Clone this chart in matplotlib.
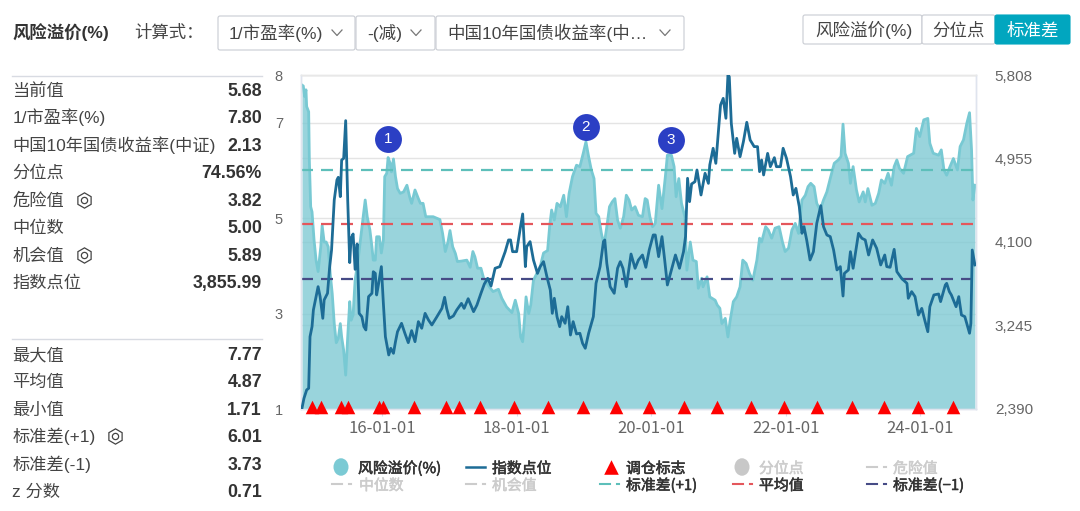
import matplotlib
matplotlib.use("Agg")
import matplotlib.pyplot as plt
import matplotlib.patheffects as pe
from matplotlib.patches import FancyBboxPatch, Ellipse

CN = ['Liberation Sans', 'Noto Sans CJK SC']
LEG = ['Noto Sans CJK SC', 'DejaVu Sans']
plt.rcParams['font.family'] = CN

# risk premium, x in decimal years
premium_t = [2014.81, 2014.83, 2014.85, 2014.87, 2014.88, 2014.91, 2014.92, 2014.94, 2014.96, 2014.99,
    2015.02, 2015.05, 2015.09, 2015.11, 2015.14, 2015.17, 2015.20, 2015.23, 2015.26, 2015.29,
    2015.32, 2015.35, 2015.38, 2015.40, 2015.43, 2015.46, 2015.49, 2015.52, 2015.54, 2015.57,
    2015.60, 2015.65, 2015.69, 2015.72, 2015.75, 2015.78, 2015.82, 2015.85, 2015.87, 2015.90,
    2015.92, 2015.96, 2015.99, 2016.02, 2016.04, 2016.07, 2016.09, 2016.12, 2016.14, 2016.17,
    2016.20, 2016.23, 2016.27, 2016.32, 2016.37, 2016.41, 2016.44, 2016.49, 2016.54, 2016.57,
    2016.61, 2016.65, 2016.71, 2016.76, 2016.86, 2016.90, 2016.94, 2016.98, 2017.01, 2017.05,
    2017.09, 2017.12, 2017.18, 2017.26, 2017.31, 2017.35, 2017.38, 2017.42, 2017.47, 2017.51,
    2017.56, 2017.60, 2017.65, 2017.73, 2017.78, 2017.85, 2017.93, 2017.98, 2018.03, 2018.06,
    2018.09, 2018.12, 2018.14, 2018.18, 2018.21, 2018.25, 2018.30, 2018.35, 2018.40, 2018.46,
    2018.49, 2018.52, 2018.56, 2018.60, 2018.65, 2018.70, 2018.74, 2018.78, 2018.83, 2018.89,
    2018.94, 2018.99, 2019.03, 2019.07, 2019.11, 2019.15, 2019.18, 2019.22, 2019.26, 2019.30,
    2019.34, 2019.38, 2019.42, 2019.46, 2019.50, 2019.54, 2019.59, 2019.63, 2019.67, 2019.71,
    2019.76, 2019.81, 2019.87, 2019.91, 2019.94, 2019.98, 2020.02, 2020.06, 2020.11, 2020.16,
    2020.21, 2020.24, 2020.30, 2020.34, 2020.37, 2020.41, 2020.45, 2020.50, 2020.53, 2020.58,
    2020.62, 2020.67, 2020.70, 2020.75, 2020.77, 2020.83, 2020.87, 2020.95, 2020.98, 2021.02,
    2021.05, 2021.10, 2021.14, 2021.17, 2021.22, 2021.27, 2021.32, 2021.36, 2021.41, 2021.46,
    2021.51, 2021.57, 2021.61, 2021.64, 2021.70, 2021.74, 2021.79, 2021.84, 2021.90, 2021.95,
    2021.99, 2022.04, 2022.09, 2022.14, 2022.19, 2022.24, 2022.29, 2022.33, 2022.37, 2022.42,
    2022.46, 2022.51, 2022.56, 2022.61, 2022.66, 2022.72, 2022.78, 2022.82, 2022.85, 2022.88,
    2022.93, 2022.96, 2023.00, 2023.05, 2023.09, 2023.15, 2023.18, 2023.22, 2023.28, 2023.33,
    2023.38, 2023.42, 2023.47, 2023.52, 2023.57, 2023.61, 2023.65, 2023.69, 2023.75, 2023.81,
    2023.90, 2023.94, 2023.99, 2024.05, 2024.11, 2024.14, 2024.19, 2024.27, 2024.31, 2024.35,
    2024.39, 2024.44, 2024.49, 2024.55, 2024.59, 2024.64, 2024.69, 2024.73, 2024.76, 2024.78, 2024.81]
premium = [7.79, 7.77, 7.55, 7.69, 7.34, 7.23, 6.22, 5.24, 5.13, 4.54,
    4.12, 3.88, 4.40, 4.85, 4.50, 4.50, 4.40, 3.84, 3.42, 2.79,
    2.39, 2.48, 2.79, 2.51, 2.23, 1.71, 2.51, 3.25, 2.86, 2.97,
    3.70, 4.19, 4.68, 5.03, 5.38, 5.03, 4.75, 4.40, 4.12, 4.12,
    4.61, 4.61, 4.27, 4.54, 5.87, 5.94, 6.27, 6.15, 5.97, 6.24,
    5.87, 5.62, 5.52, 5.55, 5.69, 5.45, 5.31, 5.59, 5.41, 5.31,
    5.31, 5.03, 5.03, 5.03, 4.97, 4.68, 4.30, 4.50, 4.74, 4.40,
    4.26, 4.09, 4.10, 4.12, 3.97, 4.30, 4.19, 3.95, 3.95, 3.74,
    3.63, 3.55, 3.46, 3.51, 3.32, 3.14, 3.02, 3.28, 3.00, 2.51,
    2.41, 2.93, 3.35, 3.00, 3.18, 3.70, 3.84, 3.98, 4.27, 4.32,
    4.82, 5.17, 4.96, 5.31, 5.24, 5.48, 5.03, 5.52, 5.87, 6.11,
    6.08, 6.36, 6.60, 6.29, 6.01, 5.83, 5.10, 5.03, 4.68, 4.44,
    4.82, 5.24, 5.34, 5.41, 4.96, 4.79, 5.03, 5.48, 5.38, 5.17,
    5.24, 5.06, 5.03, 5.41, 5.38, 5.03, 4.82, 4.89, 5.69, 5.20,
    5.87, 6.32, 6.32, 6.08, 5.45, 5.83, 5.31, 5.03, 3.91, 4.50,
    4.12, 4.09, 3.53, 3.74, 3.56, 3.77, 3.35, 3.28, 3.18, 3.11,
    2.79, 2.90, 2.51, 2.83, 3.25, 3.35, 3.56, 4.12, 4.05, 3.84,
    3.70, 4.12, 4.58, 4.50, 4.82, 4.75, 4.58, 4.79, 4.82, 4.50,
    4.30, 4.37, 4.75, 4.89, 4.68, 5.38, 5.48, 5.66, 5.73, 5.66,
    5.31, 5.17, 5.38, 5.55, 5.83, 6.15, 6.22, 6.29, 6.97, 6.36,
    6.15, 5.73, 6.08, 5.59, 5.34, 5.55, 5.34, 5.62, 5.27, 5.31,
    5.52, 5.80, 5.73, 5.94, 5.69, 6.08, 6.22, 6.04, 5.94, 6.29,
    6.36, 6.88, 6.71, 7.06, 7.09, 6.57, 6.36, 6.32, 6.43, 6.01,
    5.90, 6.08, 6.25, 6.01, 6.50, 6.64, 6.99, 7.21, 6.43, 5.38, 5.69]

# index level, right axis
index_t = [2014.81, 2014.84, 2014.88, 2014.91, 2014.93, 2014.96, 2014.98, 2015.02, 2015.05, 2015.08,
    2015.12, 2015.14, 2015.19, 2015.22, 2015.25, 2015.29, 2015.33, 2015.35, 2015.38, 2015.40,
    2015.43, 2015.46, 2015.49, 2015.52, 2015.54, 2015.57, 2015.60, 2015.63, 2015.66, 2015.70,
    2015.73, 2015.76, 2015.80, 2015.85, 2015.87, 2015.90, 2015.92, 2015.95, 2015.99, 2016.02,
    2016.05, 2016.10, 2016.13, 2016.17, 2016.20, 2016.23, 2016.29, 2016.34, 2016.39, 2016.44,
    2016.49, 2016.54, 2016.59, 2016.64, 2016.69, 2016.74, 2016.81, 2016.89, 2016.93, 2016.96,
    2017.00, 2017.06, 2017.11, 2017.18, 2017.22, 2017.28, 2017.36, 2017.41, 2017.47, 2017.52,
    2017.57, 2017.62, 2017.68, 2017.75, 2017.83, 2017.88, 2017.91, 2017.94, 2018.00, 2018.05,
    2018.09, 2018.13, 2018.15, 2018.20, 2018.25, 2018.31, 2018.35, 2018.40, 2018.45, 2018.50,
    2018.53, 2018.56, 2018.60, 2018.64, 2018.67, 2018.72, 2018.76, 2018.80, 2018.84, 2018.89,
    2018.94, 2018.98, 2019.02, 2019.07, 2019.14, 2019.18, 2019.24, 2019.29, 2019.31, 2019.34,
    2019.39, 2019.45, 2019.50, 2019.54, 2019.58, 2019.63, 2019.70, 2019.76, 2019.81, 2019.87,
    2019.92, 2019.97, 2020.03, 2020.06, 2020.11, 2020.16, 2020.20, 2020.24, 2020.30, 2020.36,
    2020.42, 2020.48, 2020.51, 2020.54, 2020.57, 2020.60, 2020.65, 2020.68, 2020.74, 2020.80,
    2020.85, 2020.87, 2020.92, 2020.96, 2021.03, 2021.07, 2021.11, 2021.14, 2021.16, 2021.19,
    2021.24, 2021.27, 2021.32, 2021.37, 2021.42, 2021.47, 2021.53, 2021.58, 2021.61, 2021.64,
    2021.67, 2021.73, 2021.77, 2021.83, 2021.86, 2021.92, 2021.96, 2022.01, 2022.07, 2022.11,
    2022.15, 2022.20, 2022.24, 2022.27, 2022.31, 2022.36, 2022.41, 2022.46, 2022.52, 2022.56,
    2022.61, 2022.66, 2022.71, 2022.76, 2022.81, 2022.85, 2022.87, 2022.93, 2022.96, 2023.00,
    2023.08, 2023.13, 2023.18, 2023.23, 2023.29, 2023.35, 2023.41, 2023.47, 2023.50, 2023.55,
    2023.61, 2023.65, 2023.72, 2023.80, 2023.82, 2023.87, 2023.92, 2023.97, 2024.02, 2024.07,
    2024.11, 2024.14, 2024.20, 2024.27, 2024.30, 2024.37, 2024.39, 2024.43, 2024.46, 2024.53,
    2024.57, 2024.61, 2024.66, 2024.73, 2024.75, 2024.77, 2024.81]
index_level = [2397, 2499, 2585, 2602, 3130, 3233, 3403, 3540, 3642, 3540,
    3318, 3506, 3574, 3830, 4017, 4529, 4734, 4761, 4563, 4938,
    4955, 5341, 4529, 3888, 4137, 4181, 3819, 4079, 3369, 3335,
    3233, 3199, 3540, 3574, 3795, 3778, 3557, 3676, 3847, 3471,
    3130, 2943, 3011, 2960, 3079, 3181, 3267, 3164, 3069, 3192,
    3079, 3284, 3216, 3369, 3301, 3250, 3328, 3420, 3533, 3420,
    3318, 3342, 3403, 3471, 3420, 3519, 3386, 3454, 3574, 3669,
    3727, 3649, 3830, 3847, 4000, 4120, 4120, 4000, 4000, 4222,
    4386, 3847, 4051, 4103, 3915, 3778, 3847, 3898, 3744, 3608,
    3369, 3523, 3335, 3233, 3335, 3267, 3437, 3147, 3284, 3158,
    3165, 3062, 3011, 3165, 3335, 3676, 3847, 4103, 4120, 3881,
    3642, 3574, 3830, 3898, 3830, 3642, 3976, 3830, 3915, 3966,
    3840, 4017, 4171, 4171, 3949, 4154, 3915, 3659, 3813, 3966,
    3830, 4000, 4154, 4751, 4512, 4693, 4716, 4836, 4580, 4802,
    4699, 4887, 5058, 4904, 5501, 5569, 5365, 5808, 5791, 5313,
    5006, 5160, 4972, 5126, 5324, 5143, 5075, 5075, 4819, 4938,
    4785, 5006, 4870, 4962, 4870, 4870, 5058, 4955, 4768, 4580,
    4648, 4461, 4188, 4256, 4120, 3915, 4000, 4290, 4471, 4256,
    4171, 4154, 4017, 3813, 3847, 3546, 3778, 3813, 4000, 3830,
    4188, 4137, 4120, 3966, 4120, 4034, 3864, 3966, 3847, 3840,
    4024, 3796, 3727, 3676, 3523, 3591, 3540, 3352, 3420, 3284,
    3181, 3437, 3557, 3567, 3489, 3659, 3676, 3591, 3557, 3437,
    3540, 3352, 3335, 3165, 3267, 4017, 3864]

rebalance_t = [2014.96, 2015.09, 2015.39, 2015.49, 2015.96, 2016.02, 2016.48, 2016.95, 2017.15, 2017.46,
    2017.96, 2018.46, 2018.98, 2019.48, 2019.97, 2020.48, 2020.98, 2021.48, 2021.97, 2022.47,
    2022.98, 2023.46, 2023.96, 2024.48]
rebalance_y = [1.05] * len(rebalance_t)

callout_t = [2016.09, 2019.03, 2020.29]
callout_y = [6.66, 6.91, 6.64]
callout_labels = ['1', '2', '3']

std_up = 6.01
mean_val = 4.87
std_down = 3.73

left_ticks = [1, 3, 5, 7, 8]
right_ticks = [2390, 3245, 4100, 4955, 5808]
right_labels = ['2,390', '3,245', '4,100', '4,955', '5,808']
x_ticks = [2016, 2018, 2020, 2022, 2024]
x_labels = ['16-01-01', '18-01-01', '20-01-01', '22-01-01', '24-01-01']

stats_top = [('当前值', '5.68'), ('1/市盈率(%)', '7.80'), ('中国10年国债收益率(中证)', '2.13'),
    ('分位点', '74.56%'), ('危险值', '3.82'), ('中位数', '5.00'), ('机会值', '5.89'), ('指数点位', '3,855.99')]
stats_bottom = [('最大值', '7.77'), ('平均值', '4.87'), ('最小值', '1.71'),
    ('标准差(+1)', '6.01'), ('标准差(-1)', '3.73'), ('z 分数', '0.71')]

fig = plt.figure(figsize=(10.8, 5.11), dpi=100)
W, H = 1080.0, 511.0
ax = fig.add_axes([301 / W, (H - 409) / H, 675 / W, 334 / H])
ax2 = ax.twinx()

ax.set_xlim(2014.796, 2024.826)
ax.set_ylim(1, 8)
ax2.set_ylim(2390, 5808)

for v in left_ticks:
    ax.axhline(v, color='#e4e4e4', lw=1, zorder=1)
for v in right_ticks:
    ax.axhline(1 + (v - 2390) * 7 / 3418, color='#e4e4e4', lw=1, zorder=1)

ax.set_zorder(1)
ax2.set_zorder(2)
ax.patch.set_visible(False)
ax2.patch.set_visible(False)

ax.fill_between(premium_t, premium, 1, color='#7cc9d3', alpha=0.78, lw=0, zorder=2)
ax.plot(premium_t, premium, color='#78c9d3', lw=2, zorder=3)

dash = (0, (5.4, 3.6))
ax.axhline(std_up, color='#5dbfba', lw=1.6, ls=dash, zorder=4)
ax.axhline(mean_val, color='#e4575c', lw=1.6, ls=dash, zorder=4)
ax.axhline(std_down, color='#464b86', lw=1.6, ls=dash, zorder=4)

ax2.plot(index_t, index_level, color='#1d6c96', lw=2, zorder=5, solid_joinstyle='round')
# callouts and triangles go on top of the index line, so map them to ax2
callout_right = [2390 + (y - 1) * 3418 / 7 for y in callout_y]
rebalance_right = [2390 + (y - 1) * 3418 / 7 for y in rebalance_y]
ax2.scatter(rebalance_t, rebalance_right, marker='^', s=95, color='#fe0000', lw=0, zorder=6, clip_on=False)
ax2.scatter(callout_t, callout_right, s=375, color='#2b3fc4', lw=0, zorder=7)
for t, y, s in zip(callout_t, callout_right, callout_labels):
    ax2.text(t, y, s, color='white', ha='center', va='center', fontsize=11, zorder=8)

ax.set_yticks(left_ticks)
ax.set_yticklabels([str(v) for v in left_ticks], fontsize=10.5, color='#666666')
ax2.set_yticks(right_ticks)
ax2.set_yticklabels(right_labels, fontsize=11, color='#666666')
ax.tick_params(axis='y', length=0, pad=13)
ax2.tick_params(axis='y', length=0, pad=13.5)
ax.set_xticks(x_ticks)
ax.set_xticklabels(x_labels, fontsize=12, color='#666666', family=LEG)
ax.tick_params(axis='x', length=5, color='#d5def0', pad=3)
ax2.tick_params(axis='x', length=0)
for a in (ax, ax2):
    for k in a.spines:
        a.spines[k].set_color('#dfe4ee')
        a.spines[k].set_linewidth(1)
    a.spines['top'].set_color('#e8e8e8')

# page furniture drawn in pixel coordinates
ov = fig.add_axes([0, 0, 1, 1], zorder=10)
ov.set_xlim(0, W)
ov.set_ylim(H, 0)
ov.axis('off')


def box(x0, x1, y0, y1, fc='white', ec='#c9ccd3'):
    ov.add_patch(FancyBboxPatch((x0 + 2, y0 + 2), x1 - x0 - 4, y1 - y0 - 4, boxstyle='round,pad=2,rounding_size=2',
        fc=fc, ec=ec, lw=0.8))


def chevron(x, y):
    ov.plot([x - 5, x, x + 5], [y - 3, y + 2.5, y - 3], color='#777777', lw=0.9)


def gear(x, y):
    ov.plot([x], [y], marker='h', ms=11, mfc='none', mec='#444444', mew=0.9)
    ov.plot([x], [y], marker='o', ms=4.5, mfc='none', mec='#444444', mew=0.9)


ov.text(12.5, 38, '风险溢价(%)', fontsize=12.5, fontweight='bold', color='#333333', va='baseline')
ov.text(134, 38, '计算式：', fontsize=12.5, color='#444444', va='baseline')

box(218, 355, 16, 50)
box(356, 435, 16, 50)
box(436, 684, 16, 50)
ov.text(229, 38.5, '1/市盈率(%)', fontsize=12.6, color='#444444', va='baseline')
ov.text(367, 38.5, '-(减)', fontsize=12.6, color='#444444', va='baseline')
ov.text(447, 38.5, '中国10年国债收益率(中…', fontsize=12.6, color='#444444', va='baseline')
chevron(337, 33)
chevron(416, 33)
chevron(665, 33)

box(803, 922, 15, 44)
box(922, 995, 15, 44)
box(995, 1070, 15, 44, fc='#01a6bf', ec='#01a6bf')
ov.text(863.5, 36, '风险溢价(%)', fontsize=12.6, color='#444444', ha='center', va='baseline')
ov.text(958.5, 36, '分位点', fontsize=12.6, color='#444444', ha='center', va='baseline')
ov.text(1032.5, 36, '标准差', fontsize=12.6, color='white', ha='center', va='baseline')

ov.plot([12, 262], [76, 76], color='#d8dbe2', lw=1)
ov.plot([12, 262], [339, 339], color='#d8dbe2', lw=1)

top_rows = [90, 117, 145, 172, 200, 227, 255, 282]
bottom_rows = [354, 381, 409, 436, 464, 491]
for (name, val), y in zip(stats_top, top_rows):
    ov.text(12.5, y + 6, name, fontsize=12.4, color='#444444', va='baseline')
    ov.text(262, y + 6, val, fontsize=12.8, fontweight='bold', color='#333333', ha='right', va='baseline')
for (name, val), y in zip(stats_bottom, bottom_rows):
    ov.text(12.5, y + 6, name, fontsize=12.4, color='#444444', va='baseline')
    ov.text(262, y + 6, val, fontsize=12.8, fontweight='bold', color='#333333', ha='right', va='baseline')
gear(84, 200)
gear(84, 255)
gear(115, 436)


def leg_text(x, y, s, col):
    ov.text(x, y, s, fontsize=10.7, family=LEG, color=col, va='baseline',
        path_effects=[pe.withStroke(linewidth=0.4, foreground=col)])


# legend
ov.add_patch(Ellipse((341, 467), 15, 17.5, fc='#7bcad4', lw=0))
leg_text(358, 473, '风险溢价(%)', '#333333')
ov.plot([466, 485], [467, 467], color='#1d6c96', lw=1.8)
leg_text(492, 473, '指数点位', '#333333')
ov.scatter([611], [467], s=110, marker='^', color='#fe0000', lw=0)
leg_text(626, 473, '调仓标志', '#333333')
ov.add_patch(Ellipse((742, 467), 15, 17.5, fc='#c8c8c8', lw=0))
leg_text(759, 473, '分位点', '#cccccc')


def dash_key(x, y, col):
    ov.plot([x, x + 10], [y, y], color=col, lw=1.5)
    ov.plot([x + 17, x + 18.5], [y, y], color=col, lw=1.5)


dash_key(867, 467, '#cccccc')
leg_text(893, 473, '危险值', '#cccccc')
row2 = [(332, 359, '中位数', '#cccccc', '#cccccc'), (466, 492, '机会值', '#cccccc', '#cccccc'),
    (600, 626, '标准差(+1)', '#5dbfba', '#333333'), (733, 759, '平均值', '#e4575c', '#333333'),
    (867, 893, '标准差(−1)', '#464b86', '#333333')]
for kx, tx, s, kc, tc in row2:
    dash_key(kx, 484, kc)
    leg_text(tx, 490, s, tc)

fig.savefig('out.png', dpi=100, facecolor='white')
